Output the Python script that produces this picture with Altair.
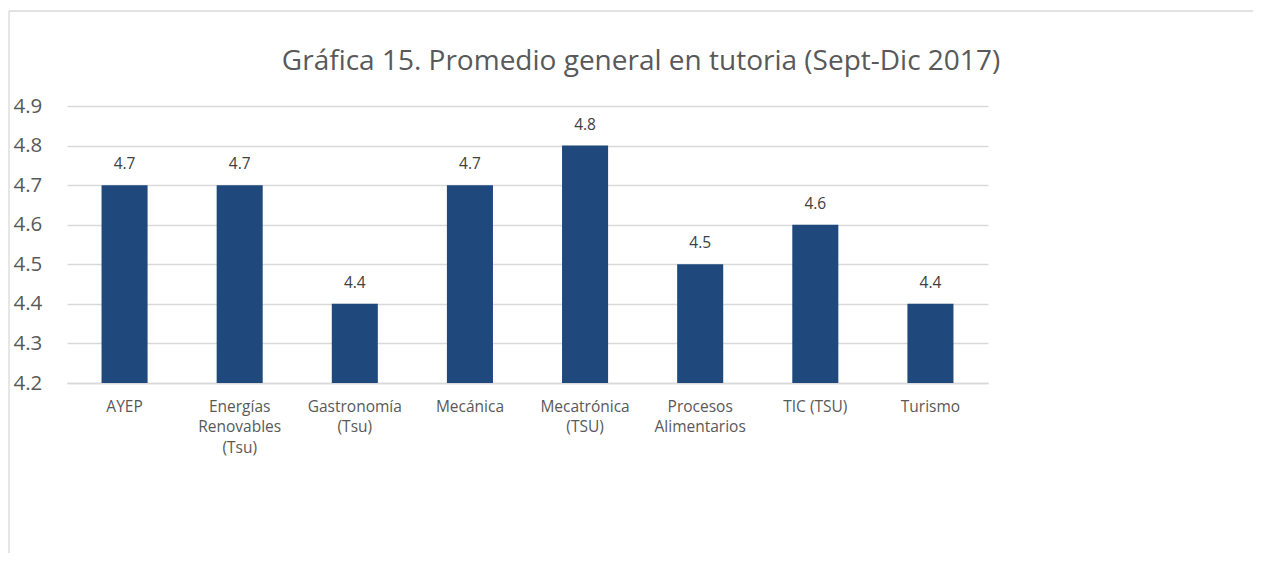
import altair as alt
import pandas as pd

categories = ["AYEP", "Energías\nRenovables\n(Tsu)", "Gastronomía\n(Tsu)", "Mecánica",
              "Mecatrónica\n(TSU)", "Procesos\nAlimentarios", "TIC (TSU)", "Turismo"]
values = [4.7, 4.7, 4.4, 4.7, 4.8, 4.5, 4.6, 4.4]
y_ticks = [4.2, 4.3, 4.4, 4.5, 4.6, 4.7, 4.8, 4.9]
title_text = "Gráfica 15. Promedio general en tutoria (Sept-Dic 2017)"

df = pd.DataFrame({"cat": categories, "val": values})

FONT = "Open Sans"
GRAY = "#595959"
GRID = "#d9d9d9"

x = alt.X("cat:N", sort=None, title=None,
          scale=alt.Scale(paddingInner=0.6, paddingOuter=0.3),
          axis=alt.Axis(labelAngle=0, labelExpr="split(datum.label, '\\n')",
                        labelFontSize=15.5, labelColor=GRAY, labelFont=FONT,
                        labelPadding=16, ticks=False, domain=True, domainColor=GRID,
                        domainWidth=1.3, labelLimit=200, labelLineHeight=20.5))
y = alt.Y("val:Q", title=None,
          scale=alt.Scale(domain=[4.2, 4.9], nice=False, zero=False),
          axis=alt.Axis(values=y_ticks, format=".1f", labelFontSize=20.5, labelColor=GRAY,
                        labelFont=FONT, labelAlign="left", labelPadding=54, ticks=False,
                        tickSize=0, domain=False, gridColor=GRID, gridWidth=1.3,
                        labelOverlap=False, labelBaseline="middle"))

base = alt.Chart(df)
bars = base.mark_bar(color="#1F497D").encode(x=x, y=y, y2=alt.datum(4.2))
labels = base.mark_text(dy=-21, fontSize=15.5, color="#404040", font=FONT).encode(
    x=x, y=y, text=alt.Text("val:Q", format=".1f"))

one = alt.Data(values=[{"t": title_text}])
border_v = alt.Chart(one).mark_rule(color=GRID, strokeWidth=1.3, clip=False).encode(
    x=alt.value(-58), y=alt.value(-95), y2=alt.value(600))
border_h = alt.Chart(one).mark_rule(color=GRID, strokeWidth=1.3, clip=False).encode(
    x=alt.value(-58), x2=alt.value(1300), y=alt.value(-95))
title = alt.Chart(one).mark_text(fontSize=28, font=FONT, color=GRAY, align="center",
                                 baseline="middle", clip=False).encode(
    x=alt.value(574), y=alt.value(-44), text="t:N")

chart = alt.layer(bars, labels, border_v, border_h, title).properties(
    width=921, height=277,
    autosize="none",
    padding={"left": 59, "top": 98, "right": 265, "bottom": 170},
    background="white",
).configure_view(stroke=None)

chart.save("out.html", embed_options={"renderer": "svg", "actions": False})
